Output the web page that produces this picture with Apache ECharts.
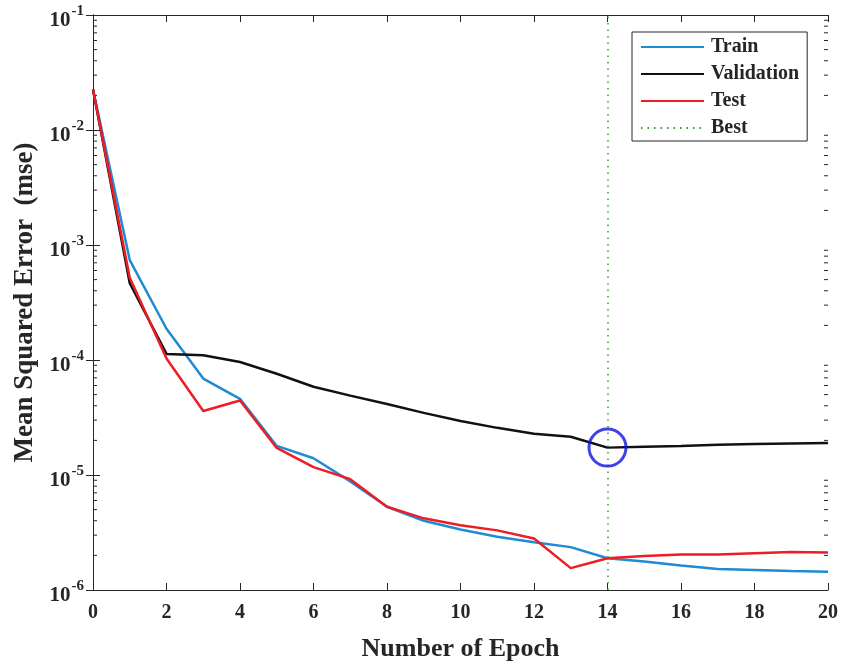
<!DOCTYPE html>
<html>
<head>
<meta charset="utf-8">
<script src="https://cdn.jsdelivr.net/npm/echarts@6/dist/echarts.min.js"></script>
<style>
  html, body { margin: 0; padding: 0; background: #fff; }
  #chart { width: 843px; height: 668px; }
</style>
</head>
<body>
<div id="chart"></div>
<script>
// Training performance (MSE per epoch)
const epochs = [0,1,2,3,4,5,6,7,8,9,10,11,12,13,14,15,16,17,18,19,20];
const trainMse = [2.25e-2, 7.4e-4, 1.87e-4, 6.9e-5, 4.6e-5, 1.79e-5, 1.4e-5, 8.8e-6, 5.3e-6, 4.0e-6, 3.36e-6,
                  2.9e-6, 2.6e-6, 2.36e-6, 1.89e-6, 1.77e-6, 1.63e-6, 1.52e-6, 1.49e-6, 1.46e-6, 1.44e-6];
const validationMse = [2.25e-2, 4.65e-4, 1.13e-4, 1.1e-4, 9.6e-5, 7.6e-5, 5.85e-5, 4.9e-5, 4.15e-5, 3.47e-5, 2.95e-5,
                       2.57e-5, 2.28e-5, 2.15e-5, 1.73e-5, 1.76e-5, 1.79e-5, 1.83e-5, 1.86e-5, 1.88e-5, 1.9e-5];
const testMse = [2.25e-2, 5.2e-4, 1.03e-4, 3.6e-5, 4.45e-5, 1.72e-5, 1.17e-5, 9.2e-6, 5.3e-6, 4.2e-6, 3.65e-6,
                 3.3e-6, 2.8e-6, 1.55e-6, 1.89e-6, 1.98e-6, 2.04e-6, 2.04e-6, 2.09e-6, 2.14e-6, 2.12e-6];
const bestEpoch = 14;
const bestValue = validationMse[bestEpoch];

const yMin = 1e-6, yMax = 1e-1;
const xMin = 0, xMax = 20, xStep = 2;

// minor log ticks: 2..9 x 10^k for each decade
const minorTickValues = [];
for (let e = -6; e < -1; e++) {
  for (let m = 2; m <= 9; m++) minorTickValues.push(m * Math.pow(10, e));
}

const serif = '"Liberation Serif", "Times New Roman", serif';
const ink = '#262626';
const zip = (ys) => epochs.map((x, i) => [x, ys[i]]);

const chart = echarts.init(document.getElementById('chart'));

const supLabel = (v) => {
  const e = Math.round(Math.log10(v));
  return '{b|10}{s|' + e + '}';
};

const dotted = [1.5, 5];

chart.setOption({
  animation: false,
  backgroundColor: '#fff',
  grid: { left: 93, right: 15, top: 15, bottom: 78, containLabel: false },
  xAxis: [
    {
      type: 'value', min: xMin, max: xMax, interval: xStep, position: 'bottom',
      name: 'Number of Epoch', nameLocation: 'middle', nameGap: 46,
      nameTextStyle: { fontFamily: serif, fontWeight: 'bold', fontSize: 26, color: ink },
      axisLine: { lineStyle: { color: ink, width: 1 } },
      axisTick: { inside: true, length: 7, lineStyle: { color: ink } },
      axisLabel: { fontFamily: serif, fontWeight: 'bold', fontSize: 20, color: ink, margin: 13 },
      splitLine: { show: false }
    },
    {
      type: 'value', min: xMin, max: xMax, interval: xStep, position: 'top',
      axisLine: { lineStyle: { color: ink, width: 1 } },
      axisTick: { inside: true, length: 7, lineStyle: { color: ink } },
      axisLabel: { show: false },
      splitLine: { show: false }
    }
  ],
  yAxis: [
    {
      type: 'log', logBase: 10, min: yMin, max: yMax, position: 'left',
      name: 'Mean Squared Error  (mse)', nameLocation: 'middle', nameGap: 51, nameRotate: 90,
      nameTextStyle: { fontFamily: serif, fontWeight: 'bold', fontSize: 27, color: ink },
      axisLine: { lineStyle: { color: ink, width: 1 } },
      axisTick: { inside: true, length: 7, lineStyle: { color: ink } },
      axisLabel: {
        formatter: supLabel, margin: 9,
        rich: {
          b: { fontFamily: serif, fontWeight: 'bold', fontSize: 21, color: ink, padding: [11, 0, 0, 0] },
          s: { fontFamily: serif, fontWeight: 'bold', fontSize: 15, color: ink, padding: [0, 0, 7, 1] }
        }
      },
      splitLine: { show: false }
    },
    {
      type: 'log', logBase: 10, min: yMin, max: yMax, position: 'right',
      axisLine: { lineStyle: { color: ink, width: 1 } },
      axisTick: { inside: true, length: 7, lineStyle: { color: ink } },
      axisLabel: { show: false },
      splitLine: { show: false }
    }
  ],
  legend: {
    data: ['Train', 'Validation', 'Test', 'Best'],
    orient: 'vertical',
    left: 632, top: 32,
    padding: [5, 8, 3, 8],
    itemGap: 7,
    itemWidth: 63, itemHeight: 14,
    backgroundColor: '#fff',
    borderColor: ink, borderWidth: 1, borderRadius: 0,
    itemStyle: { opacity: 0 },
    textStyle: { fontFamily: serif, fontWeight: 'bold', fontSize: 20, lineHeight: 18, color: ink, padding: [0, 0, 0, 2] }
  },
  series: [
    {
      name: 'Best', type: 'line', data: [], symbol: 'none',
      lineStyle: { color: '#2ca02c', width: 1.5, type: dotted },
      itemStyle: { color: '#2ca02c' },
      markLine: {
        silent: true, symbol: 'none', label: { show: false },
        lineStyle: { color: '#2ca02c', width: 1.5, type: dotted },
        data: [{ xAxis: bestEpoch }, { yAxis: bestValue }]
      },
      z: 1
    },
    {
      name: 'Train', type: 'line', data: zip(trainMse), symbol: 'none',
      lineStyle: { color: '#1f8bd3', width: 2.5 }, itemStyle: { color: '#1f8bd3' }, z: 3
    },
    {
      name: 'Validation', type: 'line', data: zip(validationMse), symbol: 'none',
      lineStyle: { color: '#111', width: 2.5 }, itemStyle: { color: '#111' }, z: 3
    },
    {
      name: 'Test', type: 'line', data: zip(testMse), symbol: 'none',
      lineStyle: { color: '#ee1c24', width: 2.5 }, itemStyle: { color: '#ee1c24' }, z: 4
    },
    {
      name: 'Best point', type: 'scatter', data: [[bestEpoch, bestValue]],
      symbol: 'circle', symbolSize: 37, silent: true,
      itemStyle: { color: 'rgba(0,0,0,0)', borderColor: '#1010e0', borderWidth: 3 }, z: 5
    },
    {
      name: 'minor ticks', type: 'custom', silent: true, clip: false,
      data: minorTickValues.map(v => [xMin, v]),
      renderItem: (params, api) => {
        const v = api.value(1);
        const l = api.coord([xMin, v]);
        const r = api.coord([xMax, v]);
        const style = { stroke: ink, lineWidth: 1 };
        return {
          type: 'group',
          children: [
            { type: 'line', shape: { x1: l[0], y1: l[1], x2: l[0] + 4, y2: l[1] }, style },
            { type: 'line', shape: { x1: r[0], y1: r[1], x2: r[0] - 4, y2: r[1] }, style }
          ]
        };
      },
      z: 2
    }
  ]
});
</script>
</body>
</html>
